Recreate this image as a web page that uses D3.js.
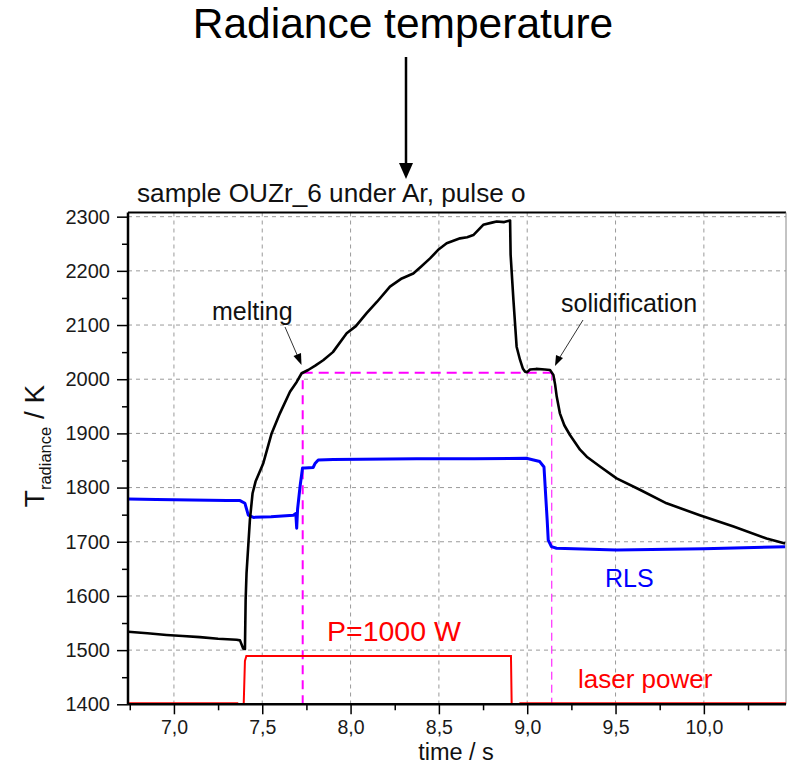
<!DOCTYPE html>
<html><head><meta charset="utf-8">
<script src="https://cdn.jsdelivr.net/npm/d3@7"></script>
<style>
html,body{margin:0;padding:0;background:#fff;}
svg{display:block;font-family:"Liberation Sans",Arial,sans-serif;}
</style></head>
<body><svg id="chart" width="790" height="766"></svg>
<script>
// ---- data ----
const radTime = [6.741,6.85,6.958,7.05,7.147,7.25,7.355,7.374,7.392,7.402,7.406,7.411,7.43,7.445,7.462,7.506,7.553,7.6,7.657,7.695,7.723,7.76,7.8,7.845,7.9,7.978,8.03,8.091,8.15,8.223,8.29,8.355,8.40,8.45,8.50,8.544,8.62,8.66,8.695,8.751,8.80,8.827,8.87,8.903,8.906,8.922,8.94,8.959,8.975,8.988,9.0,9.016,9.05,9.10,9.129,9.148,9.158,9.167,9.185,9.21,9.242,9.299,9.337,9.412,9.506,9.638,9.789,9.977,10.168,10.355,10.46];
const radTemp = [1534,1531,1528,1526,1524,1521,1519,1518,1503,1502,1593,1642,1740,1789,1811,1845,1900,1937,1977,1995,2011,2017,2025,2035,2050,2085,2098,2122,2143,2171,2186,2195,2208,2223,2240,2251,2260,2262,2266,2285,2289,2291,2290,2293,2230,2146,2060,2036,2020,2014,2013,2018,2019,2018,2017,2008,1990,1968,1937,1915,1897,1870,1857,1839,1817,1796,1771,1749,1728,1706,1697];

const rlsTime = [6.741,6.9,7.1,7.3,7.374,7.402,7.421,7.45,7.55,7.676,7.69,7.695,7.70,7.714,7.728,7.741,7.788,7.80,7.817,7.902,8.374,8.7,8.995,9.071,9.095,9.105,9.113,9.119,9.137,9.166,9.506,10.0,10.46];
const rlsTemp = [1779,1778,1777,1776,1776,1771,1749,1745,1746,1749,1752,1725,1760,1802,1836,1836,1837,1845,1851,1852,1853,1853,1854,1848,1838,1783,1740,1703,1691,1688,1685,1687,1691];

const laserTime = [6.741,7.36,7.365,7.395,7.402,7.41,8.908,8.912,8.955,8.96,10.465];
const laserLevel = [1402,1402,1400,1400,1480,1489,1489,1400,1400,1402,1402];

const meltTime = 7.729, solidTime = 9.139, plateauTemp = 2012;

const xTicks = [7.0,7.5,8.0,8.5,9.0,9.5,10.0];
const xMinor = [6.75,7.25,7.75,8.25,8.75,9.25,9.75,10.25];
const yTicks = [1400,1500,1600,1700,1800,1900,2000,2100,2200,2300];
const yMinor = [1450,1550,1650,1750,1850,1950,2050,2150,2250];

// ---- layout ----
const svg = d3.select("#chart");
const L = 128, R = 786, T = 212.5, B = 704.3;
const x = d3.scaleLinear().domain([6.74,10.465]).range([L,R]);
const y = d3.scaleLinear().domain([1400,2307.7]).range([B,T]);
const fmt = d3.formatLocale({decimal:",",thousands:".",grouping:[3],currency:["",""]}).format(".1f");

svg.append("defs").append("clipPath").attr("id","clip")
  .append("rect").attr("x",L).attr("y",T).attr("width",R-L).attr("height",B-T);

// grid
const g = svg.append("g");
g.selectAll(".gx").data(xTicks).join("line")
  .attr("x1",d=>x(d)).attr("x2",d=>x(d)).attr("y1",T).attr("y2",B)
  .attr("stroke","#9a9a9a").attr("stroke-width",1).attr("stroke-dasharray","4,4");
g.selectAll(".gy").data(yTicks.filter(d=>d>1400)).join("line")
  .attr("x1",L).attr("x2",R).attr("y1",d=>y(d)).attr("y2",d=>y(d))
  .attr("stroke","#9a9a9a").attr("stroke-width",1).attr("stroke-dasharray","4,4");

// frame top/right
svg.append("line").attr("x1",L).attr("x2",R).attr("y1",T).attr("y2",T).attr("stroke","#000").attr("stroke-width",2);
svg.append("line").attr("x1",R).attr("x2",R).attr("y1",T).attr("y2",B).attr("stroke","#888").attr("stroke-width",1);

// magenta dashed guide lines
const mg = svg.append("g").attr("clip-path","url(#clip)");
mg.append("line").attr("x1",x(meltTime)).attr("x2",x(meltTime)).attr("y1",y(1400)).attr("y2",y(plateauTemp))
  .attr("stroke","#ff00ff").attr("stroke-width",2).attr("stroke-dasharray","9,6");
mg.append("line").attr("x1",x(meltTime)).attr("x2",x(solidTime)).attr("y1",y(plateauTemp)).attr("y2",y(plateauTemp))
  .attr("stroke","#ff00ff").attr("stroke-width",2).attr("stroke-dasharray","10,6");
mg.append("line").attr("x1",x(solidTime)).attr("x2",x(solidTime)).attr("y1",y(plateauTemp)).attr("y2",y(1400))
  .attr("stroke","#ff00ff").attr("stroke-width",1).attr("stroke-dasharray","8,5");

// series
const line = d3.line().x(d=>x(d[0])).y(d=>y(d[1]));
const cg = svg.append("g").attr("clip-path","url(#clip)");
cg.append("path").datum(laserTime.map((t,i)=>[t,laserLevel[i]]))
  .attr("d",line).attr("fill","none").attr("stroke","#ff0000").attr("stroke-width",2);
cg.append("path").datum(rlsTime.map((t,i)=>[t,rlsTemp[i]]))
  .attr("d",line).attr("fill","none").attr("stroke","#0000ff").attr("stroke-width",3).attr("stroke-linejoin","round");
cg.append("path").datum(radTime.map((t,i)=>[t,radTemp[i]]))
  .attr("d",line).attr("fill","none").attr("stroke","#000").attr("stroke-width",2.6).attr("stroke-linejoin","round");

// axes
const xAxis = svg.append("g").attr("transform",`translate(0,${B})`)
  .call(d3.axisBottom(x).tickValues(xTicks).tickFormat(fmt).tickSize(10).tickPadding(6));
svg.append("g").attr("transform",`translate(0,${B})`)
  .call(d3.axisBottom(x).tickValues(xMinor).tickFormat("").tickSize(6))
  .call(s=>s.select(".domain").remove());
const yAxis = svg.append("g").attr("transform",`translate(${L},0)`)
  .call(d3.axisLeft(y).tickValues(yTicks).tickFormat(d3.format("d")).tickSize(11).tickPadding(7));
svg.append("g").attr("transform",`translate(${L},0)`)
  .call(d3.axisLeft(y).tickValues(yMinor).tickFormat("").tickSize(6))
  .call(s=>s.select(".domain").remove());
svg.selectAll(".tick line").attr("stroke","#000").attr("stroke-width",1.5);
xAxis.select(".domain").attr("d",`M${L},0H${R}`).attr("stroke","#000").attr("stroke-width",2.5);
yAxis.select(".domain").attr("d",`M0,${B}V${T}`).attr("stroke","#000").attr("stroke-width",2.5);
svg.selectAll(".tick text").attr("font-size",20).attr("fill","#1a1a1a")
  .attr("font-family","'Liberation Sans',Arial,sans-serif");
xAxis.selectAll(".tick text").attr("font-size",19.5);

// axis titles
svg.append("text").attr("x",456).attr("y",760).attr("text-anchor","middle")
  .attr("font-size",23.5).attr("fill","#111").text("time / s");
const yl = svg.append("text").attr("transform","translate(44,446) rotate(-90)")
  .attr("text-anchor","middle").attr("font-size",28).attr("fill","#111");
yl.append("tspan").text("T");
yl.append("tspan").attr("font-size",16.5).attr("dy",7).text("radiance");
yl.append("tspan").attr("dy",-7).text(" / K");

// titles
svg.append("text").attr("x",137).attr("y",202).attr("font-size",26.2).attr("fill","#111")
  .text("sample OUZr_6 under Ar, pulse o");
svg.append("text").attr("x",403).attr("y",38).attr("text-anchor","middle").attr("font-size",42.5).attr("fill","#000")
  .text("Radiance temperature");
svg.append("line").attr("x1",406).attr("x2",406).attr("y1",57).attr("y2",166).attr("stroke","#000").attr("stroke-width",2.5);
svg.append("path").attr("d","M399,163 L413,163 L406,179 Z").attr("fill","#000");

// annotations
svg.append("text").attr("x",212).attr("y",320).attr("font-size",25).attr("fill","#111").text("melting");
svg.append("line").attr("x1",285).attr("y1",327).attr("x2",298).attr("y2",357).attr("stroke","#333").attr("stroke-width",1);
svg.append("path").attr("d","M293.5,356 L301.5,365 L301,353 Z").attr("fill","#000");
svg.append("text").attr("x",561).attr("y",312).attr("font-size",25).attr("fill","#111").text("solidification");
svg.append("line").attr("x1",583).attr("y1",320).attr("x2",560).attr("y2",357).attr("stroke","#333").attr("stroke-width",1);
svg.append("path").attr("d","M556,355 L555,366 L563,358 Z").attr("fill","#000");
svg.append("text").attr("x",605).attr("y",587).attr("font-size",25).attr("fill","#0000ff").text("RLS");
svg.append("text").attr("x",327).attr("y",641).attr("font-size",28.5).attr("fill","#ff0000").text("P=1000 W");
svg.append("text").attr("x",578).attr("y",688).attr("font-size",26).attr("fill","#ff0000").text("laser power");
</script></body></html>
